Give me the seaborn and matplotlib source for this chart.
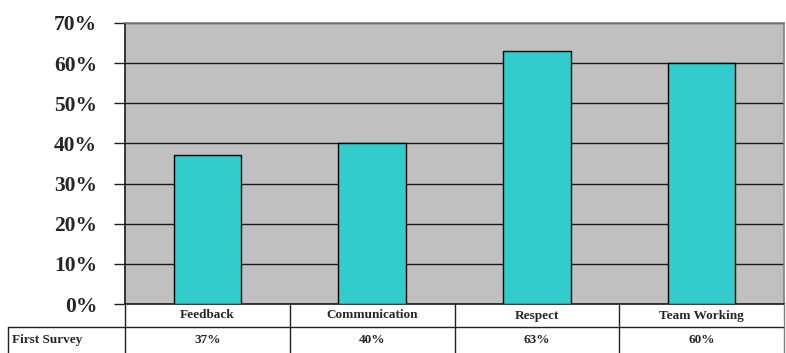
import matplotlib
matplotlib.use("Agg")
import matplotlib.pyplot as plt
import seaborn as sns
import pandas as pd
from matplotlib.lines import Line2D

categories = ["Feedback", "Communication", "Respect", "Team Working"]
values = [37, 40, 63, 60]
value_labels = ["37%", "40%", "63%", "60%"]
series_name = "First Survey"
yticks = [0, 10, 20, 30, 40, 50, 60, 70]

sns.set_theme(style="white")
plt.rcParams["font.family"] = ["Liberation Serif", "DejaVu Serif"]

W, H = 786, 353
fig = plt.figure(figsize=(W / 100, H / 100), dpi=100)
x0, x1 = 125, 784
ytop, ybot = 23, 304
ax = fig.add_axes([x0 / W, 1 - ybot / H, (x1 - x0) / W, (ybot - ytop) / H])
ax.set_facecolor("#C0C0C0")

df = pd.DataFrame({"cat": categories, "val": values})
sns.barplot(data=df, x="cat", y="val", ax=ax, color="#33CCCC", width=0.41,
            edgecolor="black", linewidth=1.0, saturation=1, zorder=3)
ax.set_ylim(0, 70)
ax.set_xlim(-0.5, len(categories) - 0.5)
ax.set_yticks(yticks)
ax.set_yticklabels([f"{t}%" for t in yticks], fontsize=15.5, fontweight="bold")
ax.yaxis.grid(True, color="#1a1a1a", linewidth=1.0, zorder=1)
ax.set_axisbelow(True)
ax.tick_params(axis="y", length=8, width=1, color="#222222", pad=12, left=True)
ax.set_xticks([])
ax.set_xlabel("")
ax.set_ylabel("")
for s in ["top", "right"]:
    ax.spines[s].set_color("#808080")
    ax.spines[s].set_linewidth(1.2)
ax.spines["left"].set_color("#222222")
ax.spines["bottom"].set_color("#222222")

# data table below the axes
def fx(px):
    return px / W

def fy(py):
    return 1 - py / H

row1_top, row1_bot, row2_bot = 304, 327, 353
left_cell = 8
col_w = (x1 - x0) / len(categories)
lc = "#222222"
lines = [
    ((x0, x0), (row1_top, row2_bot)),
    ((left_cell, x1), (row1_bot, row1_bot)),
    ((left_cell, left_cell), (row1_bot, row2_bot)),
    ((x1, x1), (row1_top, row2_bot)),
]
for i in range(1, len(categories)):
    xx = x0 + i * col_w
    lines.append(((xx, xx), (row1_top, row2_bot)))
for (xa, xb), (ya, yb) in lines:
    col = "#808080" if xa == x1 and xb == x1 else lc
    fig.add_artist(Line2D([fx(xa), fx(xb)], [fy(ya), fy(yb)], color=col, linewidth=1.0))

for i, (c, v) in enumerate(zip(categories, value_labels)):
    cx = x0 + (i + 0.5) * col_w
    fig.text(fx(cx), fy((row1_top + row1_bot) / 2), c, ha="center", va="center",
             fontsize=9.5, fontweight="bold")
    fig.text(fx(cx), fy((row1_bot + row2_bot) / 2), v, ha="center", va="center",
             fontsize=9.5, fontweight="bold")
fig.text(fx(left_cell + 4), fy((row1_bot + row2_bot) / 2), series_name, ha="left",
         va="center", fontsize=9.5, fontweight="bold")

fig.savefig("out.png", dpi=100)
